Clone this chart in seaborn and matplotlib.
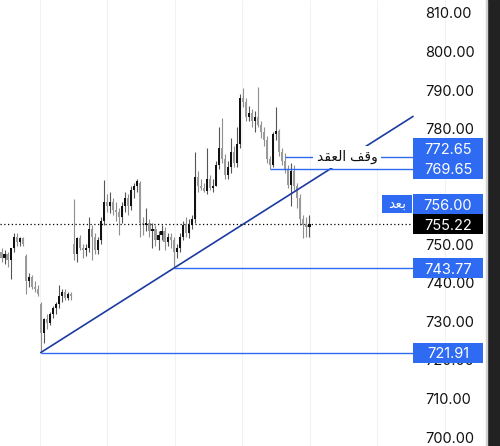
import numpy as np
import pandas as pd
import matplotlib
matplotlib.use("Agg")
import matplotlib.pyplot as plt
import matplotlib.transforms as mtransforms
from matplotlib.patches import Rectangle
import seaborn as sns

# candle data
opens = [748, 746.5, 747.5, 746, 749, 752, 750.5, 751.5, 747, 740.5, 741.5, 739, 738.5,
         734.5, 727, 730.5, 729.5, 732, 733.5, 734.5, 736.5, 737.5, 736, 737,
         750, 747.5, 751.5, 749, 748.5, 749, 754, 752, 748.5, 751, 756, 761, 760, 761, 759,
         758.5, 757, 760, 762, 760, 764, 765, 766, 755.5, 755, 755.5, 753.5, 754, 751,
         752.5, 753.5, 750.5, 752, 751, 748, 749, 752, 755, 753, 755, 756.5, 767.5, 765,
         764.5, 763.8, 767, 764.5, 765, 770.5, 775, 772, 768, 770, 774, 771, 776, 788,
         787, 783, 784, 782, 783, 781, 779, 777, 772, 770.5, 778.5, 779.5, 774, 771.5,
         769.5, 765.5, 769, 765, 762, 756.5, 755, 754.5]
highs = [749, 748.5, 748, 747, 753, 753, 752, 752, 747.5, 742.5, 742, 740.5, 739.5,
         735, 731, 732, 732.5, 734, 735, 739.5, 738.5, 738.5, 737.5, 737.5,
         761.7, 752, 752.5, 750, 750, 757, 755, 753, 752, 757, 766.7, 763, 763.5, 762, 761,
         759.5, 761, 763.5, 763, 765, 766, 767, 766.5, 757, 759.4, 756.5, 755.5, 755, 753.5,
         755, 754.5, 753, 753, 752, 750, 753, 756, 757, 756.5, 757.5, 774, 769, 767,
         766, 775, 768, 767, 771.5, 780.4, 782.8, 773.5, 771.5, 777.5, 775.5, 780.4, 789, 790.5,
         788, 786, 785, 784.5, 790.8, 782, 780.5, 778, 773, 779, 785.6, 780, 775, 773.7,
         770.5, 771, 770.5, 766, 763, 757.5, 757, 757.5]
lows = [745.5, 745, 744, 741, 748, 749.5, 749.5, 749.5, 737, 739, 738.5, 737.5, 736.5,
        721.91, 724.5, 728, 729, 731, 732, 733.5, 735, 735.5, 735.5, 735.5,
        746, 745.5, 748.5, 746.5, 747, 748, 746, 747.5, 747.5, 750, 755, 758.5, 758, 757.5, 756,
        752.4, 755.5, 758.5, 757.5, 759, 762, 763.5, 751.9, 752.5, 753.5, 752, 749, 749.5, 748.5,
        751, 748.5, 749.5, 749, 743.77, 746.5, 748, 751, 752, 751.6, 754, 755.5, 763.5, 764,
        763.6, 763, 764, 763.5, 765, 769.5, 771, 767, 767, 768.5, 770, 770, 775, 785.5,
        782, 782, 780.5, 779, 780.5, 777.5, 775.5, 771, 769.65, 770, 777, 773, 770.5, 768.5,
        764.5, 760, 764, 759.5, 755, 751.6, 752, 751.8]
closes = [746.5, 747.5, 746, 749, 752, 750.5, 751.5, 750, 740.5, 741.5, 739, 738.5, 737,
          727, 730.5, 729.5, 732, 733.5, 734.5, 736.5, 737.5, 736, 737, 736.5,
          747.5, 751.5, 749, 748.5, 749, 754, 752, 748.5, 751, 756, 761, 760, 761, 759, 758.5,
          757, 760, 762, 760, 764, 765, 766.5, 755.5, 755, 755.5, 753.5, 754, 751, 752.5,
          753.5, 750.5, 752, 751, 748, 749, 752, 755, 753, 755, 756.5, 767.5, 765, 764.5,
          763.8, 767, 764.5, 765, 770.5, 775, 772, 768, 770, 774, 771, 776, 788, 787,
          783, 784, 782, 783, 781, 779, 777, 772, 770.5, 778.5, 779.5, 774, 771.5, 769.5,
          765.5, 769, 765, 762, 756.5, 755, 754.5, 755.22]

# drawn levels
stop_level = 772.65
level_b = 769.65
entry_level = 756.00
last_price = 755.22
support_mid = 743.77
support_low = 721.91
trend_idx = [13, 57]
trend_price = [721.91, 743.77]
# price axis labels (760 and 770 sit fully under the label boxes)
price_ticks = [700, 710, 720, 730, 740, 750, 780, 790, 800, 810]
grid_idx = [12.75, 35.1, 57.5, 79.8, 102.2, 124.5, 146.9]

stop_text = "ﺪﻘﻌﻟﺍ ﻒﻗﻭ"   # وقف العقد (shaped, visual order)
after_text = "ﺪﻌﺑ"          # بعد

df = pd.DataFrame({"open": opens, "high": highs, "low": lows, "close": closes})
df["idx"] = np.arange(len(df))
df["up"] = df["close"] >= df["open"]

sns.set_theme(style="white")
plt.rcParams["font.family"] = ["Inter", "DejaVu Sans"]

BLUE = "#2f6bf2"
NAVY = "#1c3ba0"

fig = plt.figure(figsize=(5, 4.46), dpi=100)
fig.patches.append(Rectangle((0.974, 0), 0.026, 1, transform=fig.transFigure,
                             color="#222222", zorder=0))
fig.patches.append(Rectangle((0.971, 0), 0.003, 1, transform=fig.transFigure,
                             color="#d0d0d0", zorder=0))
ax = fig.add_axes([0, 0, 0.974, 1])

# candles
wick_col = np.where(df["up"], "#555555", "#8f8f8f")
ax.vlines(df["idx"], df["low"], df["high"], colors=wick_col, lw=0.8, zorder=2)
body_bottom = np.minimum(df["open"], df["close"])
body_height = np.maximum(np.abs(df["close"] - df["open"]), 0.25)
body_col = np.where(df["up"], "#111111", "#9a9a9a")
ax.bar(df["idx"], body_height, bottom=body_bottom, width=0.7, color=body_col,
       linewidth=0, zorder=3)

x_end = 136.3
# trendline
slope = (trend_price[1] - trend_price[0]) / (trend_idx[1] - trend_idx[0])
tx = np.array([trend_idx[0], x_end])
ax.plot(tx, trend_price[0] + slope * (tx - trend_idx[0]), color=NAVY, lw=1.2, zorder=4)

# horizontal levels
ax.hlines(support_low, trend_idx[0], x_end, color=BLUE, lw=1.0, zorder=4)
ax.hlines(support_mid, trend_idx[1], x_end, color=BLUE, lw=1.0, zorder=4)
ax.hlines(level_b, 89, x_end, color=BLUE, lw=1.0, zorder=4)
ax.hlines(stop_level, 94, x_end, color=BLUE, lw=1.0, zorder=4)
ax.text(114.5, stop_level, stop_text, ha="center", va="center", fontsize=10,
        color="#111111", zorder=5,
        bbox=dict(boxstyle="square,pad=0.25", fc="white", ec="none"))

# last price dotted line
ax.hlines(last_price, -0.5, 135.5, color="black", lw=0.9, linestyles=(0, (1, 2)), zorder=4)

ax.set_xlim(-0.5, 160.8)
ax.set_ylim(697.67, 813.37)

# axis ticks
ax.yaxis.tick_right()
ax.set_yticks(price_ticks)
ax.set_yticklabels([f"{p:.2f}" for p in price_ticks])
ax.tick_params(axis="y", length=0, pad=-44.5, labelsize=10.5, labelcolor="#111111")
ax.set_xticks(grid_idx)
ax.set_xticklabels([])
ax.tick_params(axis="x", length=0)
ax.grid(axis="x", color="#f2f2f2", lw=0.8)
ax.grid(axis="y", visible=False)
for s in ax.spines.values():
    s.set_visible(False)

# price labels on the right
box_x0, box_w = 0.848, 0.1437
box_h = 5.2
labels = [
    (stop_level, level_b + box_h, BLUE),
    (level_b, level_b, BLUE),
    (entry_level, last_price + box_h, BLUE),
    (last_price, last_price, "black"),
    (support_mid, support_mid, BLUE),
    (support_low, support_low, BLUE),
]
trans = mtransforms.blended_transform_factory(ax.transAxes, ax.transData)
for val, yc, col in labels:
    ax.add_patch(Rectangle((box_x0, yc - box_h / 2), box_w, box_h, transform=trans,
                           fc=col, ec="none", zorder=6, clip_on=False))
    ax.text(box_x0 + box_w / 2, yc, f"{val:.2f}", transform=trans, ha="center",
            va="center_baseline", color="white", fontsize=10.5, zorder=7)

# "after" tag next to the entry label
tag_h = 4.7
tag_yc = last_price + box_h
ax.add_patch(Rectangle((0.785, tag_yc - tag_h / 2), 0.0605, tag_h,
                       transform=trans, fc=BLUE, ec="none", zorder=6))
ax.text(0.785 + 0.0605 / 2, tag_yc, after_text, transform=trans,
        ha="center", va="center", color="white", fontsize=10, zorder=7)

fig.savefig("out.png", dpi=100)
